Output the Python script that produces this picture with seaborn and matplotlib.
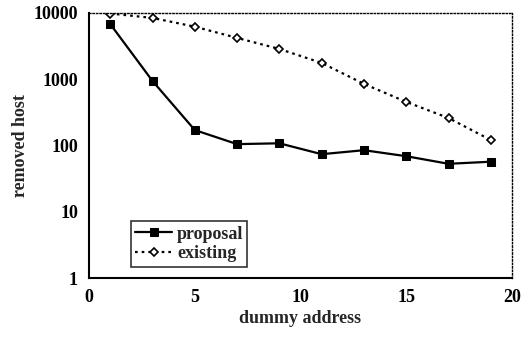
import matplotlib
matplotlib.use("Agg")
import matplotlib.pyplot as plt
import seaborn as sns
import pandas as pd

dummy_address = [1, 3, 5, 7, 9, 11, 13, 15, 17, 19]
proposal = [6800, 940, 171, 105, 108, 74, 85, 69, 53, 57]
existing = [9800, 8400, 6200, 4200, 2860, 1760, 850, 455, 260, 121]

sns.set_theme(style="white")
plt.rcParams['font.family'] = ['Liberation Serif', 'DejaVu Serif']
plt.rcParams['font.weight'] = 'bold'

df = pd.DataFrame({"x": dummy_address, "proposal": proposal, "existing": existing})

fig = plt.figure(figsize=(5.24, 3.4), dpi=100)
ax = fig.add_axes([0.170, 0.182, 0.807, 0.780])

sns.lineplot(data=df, x="x", y="proposal", ax=ax, color="black", lw=1.6,
             marker="s", markersize=6, markerfacecolor="black", markeredgecolor="black",
             label="proposal")
sns.lineplot(data=df, x="x", y="existing", ax=ax, color="black", lw=1.6,
             linestyle=(0, (1.2, 1.8)), marker="D", markersize=4,
             markerfacecolor="white", markeredgecolor="black", markeredgewidth=1.2,
             label="existing")

ax.set_yscale("log")
ax.set_xlim(0, 20)
ax.set_ylim(1, 10000)
ax.set_xticks([0, 5, 10, 15, 20])
ax.set_yticks([1, 10, 100, 1000, 10000])
ax.set_yticklabels(["1", "10", "100", "1000", "10000"])
ax.minorticks_off()
ax.tick_params(direction="in", length=5, width=1.2, labelsize=13, colors="black", pad=8)
for lbl in ax.get_xticklabels() + ax.get_yticklabels():
    lbl.set_fontweight("bold")

ax.set_xlabel("dummy address", fontsize=13, fontweight="bold", labelpad=3)
ax.set_ylabel("removed host", fontsize=13, fontweight="bold", labelpad=3)

for s in ["left", "bottom"]:
    ax.spines[s].set_linewidth(1.5)
    ax.spines[s].set_color("black")
for s in ["top", "right"]:
    ax.spines[s].set_linewidth(1.0)
    ax.spines[s].set_linestyle((0, (1, 1.5)))
    ax.spines[s].set_color("black")

leg = ax.legend(loc="lower left", bbox_to_anchor=(0.099, 0.042, 0.274, 0.204),
                mode="expand", frameon=True, fancybox=False, fontsize=13,
                handlelength=2.0, handletextpad=0.3, borderpad=0.25, labelspacing=0.15,
                borderaxespad=0)
leg.get_frame().set_edgecolor("black")
leg.get_frame().set_linewidth(1.2)
for t in leg.get_texts():
    t.set_fontweight("bold")

fig.savefig("out.png", dpi=100)
